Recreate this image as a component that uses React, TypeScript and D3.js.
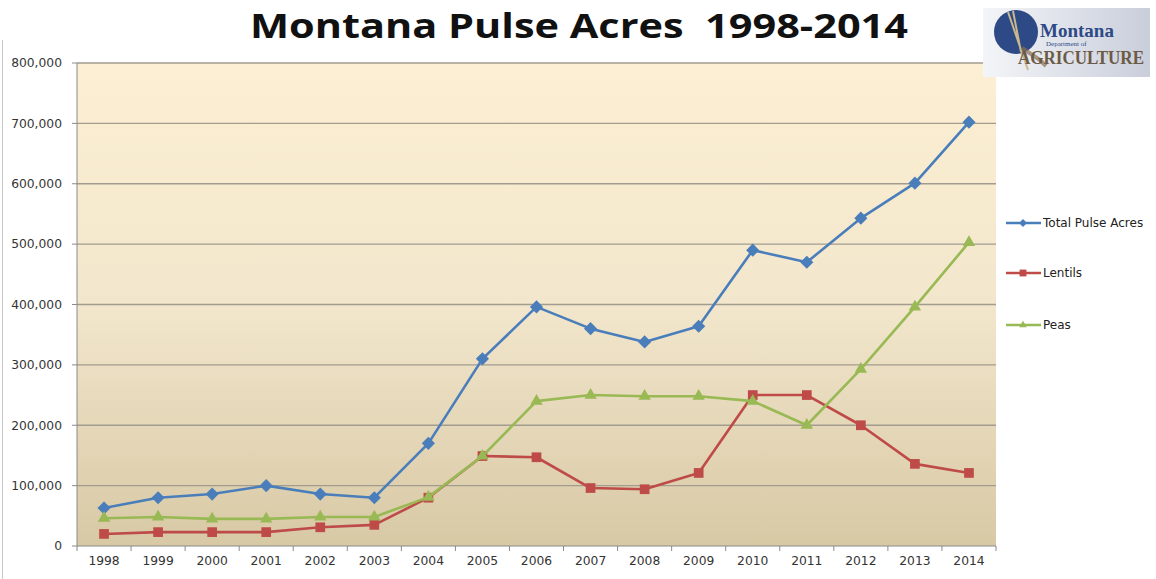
import React from "react";
import * as d3 from "d3";

const years = ["1998","1999","2000","2001","2002","2003","2004","2005","2006","2007","2008","2009","2010","2011","2012","2013","2014"];
const totalPulse = [63000,80000,86000,100000,86000,80000,170000,310000,396000,360000,338000,364000,490000,470000,543000,601000,702000];
const lentils = [20000,23000,23000,23000,31000,35000,80000,149000,147000,96000,94000,121000,250000,250000,200000,136000,121000];
const peas = [46000,48000,45000,45000,48000,48000,81000,149000,240000,250000,248000,248000,240000,200000,293000,396000,503000];
const yTicks = [0,100000,200000,300000,400000,500000,600000,700000,800000];

const seriesList = [
  { name: "Total Pulse Acres", values: totalPulse, color: "#4a7ebb", marker: "diamond" },
  { name: "Lentils", values: lentils, color: "#be4b48", marker: "square" },
  { name: "Peas", values: peas, color: "#98b954", marker: "triangle" },
];

const W = 1156, H = 579;
const left = 77, right = 996, top = 63, bottom = 546;

function markerPath(type: string, size: number) {
  const sym = type === "diamond" ? d3.symbolDiamond2 : type === "square" ? d3.symbolSquare2 : d3.symbolTriangle2;
  return d3.symbol(sym, size)() as string;
}

export default function App() {
  const x = d3.scaleBand().domain(years).range([left, right]).paddingInner(0).paddingOuter(0);
  const y = d3.scaleLinear().domain([0, 800000]).range([bottom, top]);
  const cx = (yr: string) => (x(yr) as number) + x.bandwidth() / 2;
  const line = d3.line<number>().x((_, i) => cx(years[i])).y((v) => y(v));
  const fmt = d3.format(",");
  const legendY = [223, 273, 325];

  return (
    <svg width={W} height={H} style={{ position: "absolute", left: 0, top: 0, background: "#fff" }}>
      <defs>
        <linearGradient id="bg" x1="0" y1="0" x2="0" y2="1">
          <stop offset="0" stopColor="#fcefd3" />
          <stop offset="0.5" stopColor="#f2e6cc" />
          <stop offset="1" stopColor="#d8c9a5" />
        </linearGradient>
        <linearGradient id="logo" x1="0" y1="0" x2="1" y2="0">
          <stop offset="0" stopColor="#f4f5f8" />
          <stop offset="1" stopColor="#c9cedb" />
        </linearGradient>
      </defs>
      <line x1={2.5} y1={40} x2={2.5} y2={579} stroke="#c8c8c8" strokeWidth={1} />
      <rect x={left} y={top} width={right - left} height={bottom - top} fill="url(#bg)" />
      {yTicks.map((t) => (
        <g key={t}>
          {t > 0 && <line x1={left} x2={right} y1={y(t)} y2={y(t)} stroke="#a29b8f" strokeWidth={1.3} />}
          <line x1={left - 5} x2={left} y1={y(t)} y2={y(t)} stroke="#8a8a8a" strokeWidth={1} />
          <text x={62} y={y(t)} dy="0.35em" textAnchor="end" fontFamily="DejaVu Sans" fontSize={12.3} fill="#333">{fmt(t)}</text>
        </g>
      ))}
      <line x1={left} x2={left} y1={top} y2={bottom} stroke="#8a8a8a" strokeWidth={1} />
      <line x1={left} x2={right} y1={bottom} y2={bottom} stroke="#8a8a8a" strokeWidth={1} />
      {years.map((yr, i) => (
        <g key={yr}>
          <line x1={(x(yr) as number)} x2={(x(yr) as number)} y1={bottom} y2={bottom + 5} stroke="#8a8a8a" strokeWidth={1} />
          {i === years.length - 1 && <line x1={right} x2={right} y1={bottom} y2={bottom + 5} stroke="#8a8a8a" strokeWidth={1} />}
          <text x={cx(yr)} y={565} textAnchor="middle" fontFamily="DejaVu Sans" fontSize={12.3} fill="#333">{yr}</text>
        </g>
      ))}
      {seriesList.map((s) => (
        <g key={s.name}>
          <path d={line(s.values) as string} fill="none" stroke={s.color} strokeWidth={2.6} strokeLinejoin="round" />
          {s.values.map((v, i) => (
            <path key={i} d={markerPath(s.marker, s.marker === "square" ? 120 : 110)} transform={`translate(${cx(years[i])},${y(v)})`} fill={s.color} />
          ))}
        </g>
      ))}
      {seriesList.map((s, i) => (
        <g key={s.name} transform={`translate(0,${legendY[i]})`}>
          <line x1={1006} x2={1041} y1={0} y2={0} stroke={s.color} strokeWidth={2.4} />
          <path d={markerPath(s.marker, s.marker === "square" ? 60 : 40)} transform="translate(1023,0)" fill={s.color} />
          <text x={1043} y={0} dy="0.35em" fontFamily="DejaVu Sans" fontSize={12} fill="#222">{s.name}</text>
        </g>
      ))}
      <text x={250} y={38} xmlSpace="preserve" style={{ whiteSpace: "pre" }} textLength={658} lengthAdjust="spacingAndGlyphs" fontFamily="Open Sans, DejaVu Sans" fontWeight="bold" fontSize={34} fill="#111">{"Montana Pulse Acres  1998-2014"}</text>
      <g>
        <rect x={983} y={8} width={167} height={69} fill="url(#logo)" />
        <circle cx={1016} cy={32} r={22} fill="#2e4a86" />
        <path d="M1008,12 L1028,70 M1013,11 L1021,52" stroke="#c9b88c" strokeWidth={2} fill="none" />
        <path d="M1022,48 L1040,60 L1046,66" stroke="#8a7050" strokeWidth={4} fill="none" opacity={0.7} />
        <text x={1040} y={37} fontFamily="Liberation Serif" fontWeight="bold" fontSize={19} fill="#2e4a86">Montana</text>
        <text x={1046} y={46} fontFamily="Liberation Serif" fontSize={7} fill="#2e4a86">Department of</text>
        <text x={1018} y={64} fontFamily="Liberation Serif" fontWeight="bold" fontSize={18} fill="#6b5a45" textLength={126} lengthAdjust="spacingAndGlyphs">AGRICULTURE</text>
      </g>
    </svg>
  );
}
